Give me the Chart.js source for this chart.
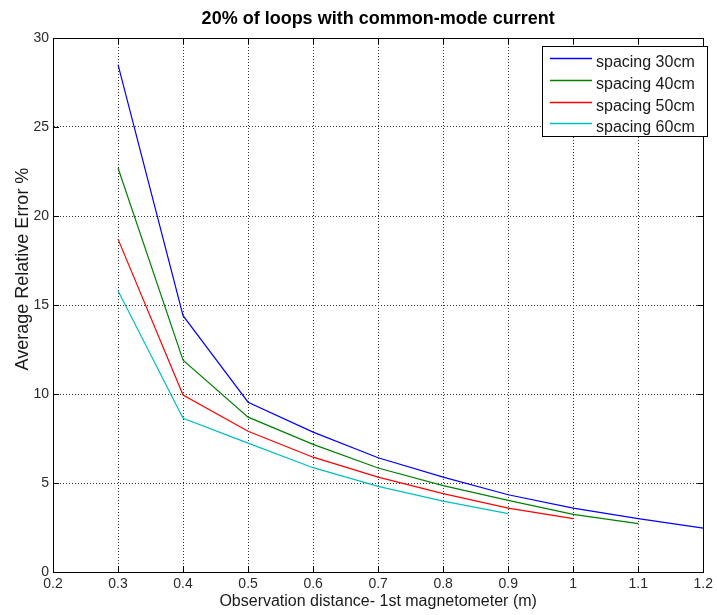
<!DOCTYPE html>
<html>
<head>
<meta charset="utf-8">
<script src="https://cdn.jsdelivr.net/npm/chart.js@4"></script>
<style>
  html, body { margin: 0; padding: 0; background: #fff; }
  #wrap { width: 717px; height: 615px; }
</style>
</head>
<body>
<div id="wrap"><canvas id="c" width="717" height="615"></canvas></div>
<script>
// Observation distance (m) and average relative error (%) per sensor spacing
const distances = [0.3, 0.4, 0.5, 0.6, 0.7, 0.8, 0.9, 1.0, 1.1, 1.2];
const spacing30 = [28.5, 14.4, 9.54, 7.86, 6.42, 5.33, 4.34, 3.59, 3.0, 2.47];
const spacing40 = [22.7, 11.9, 8.7, 7.17, 5.84, 4.85, 4.02, 3.24, 2.72];
const spacing50 = [18.7, 9.94, 7.91, 6.45, 5.33, 4.4, 3.59, 3.0];
const spacing60 = [15.8, 8.63, 7.24, 5.86, 4.81, 3.98, 3.28];
const seriesLabels = ['spacing 30cm', 'spacing 40cm', 'spacing 50cm', 'spacing 60cm'];
const seriesColors = ['#0000ff', '#008000', '#ff0000', '#00bfbf'];
const xTicks = [0.2, 0.3, 0.4, 0.5, 0.6, 0.7, 0.8, 0.9, 1.0, 1.1, 1.2];
const yTicks = [0, 5, 10, 15, 20, 25, 30];

const titleText = '20% of loops with common-mode current';
const xTitle = 'Observation distance- 1st magnetometer (m)';
const yTitle = 'Average Relative Error %';
const FONT = '"Liberation Sans", Arial, Helvetica, sans-serif';

const toPoints = vals => vals.map((v, i) => ({ x: distances[i], y: v }));
const series = [spacing30, spacing40, spacing50, spacing60];

// Frame, inward tick marks, title, y-axis label and the boxed legend
const matlabFrame = {
  id: 'matlabFrame',
  afterDraw(chart) {
    const { ctx, chartArea: a, scales } = chart;
    ctx.save();
    ctx.strokeStyle = '#000';
    ctx.lineWidth = 1;
    ctx.strokeRect(Math.round(a.left) + 0.5, Math.round(a.top) + 0.5,
                   Math.round(a.right - a.left), Math.round(a.bottom - a.top));
    const tl = 6;
    ctx.beginPath();
    xTicks.forEach(v => {
      const px = Math.round(scales.x.getPixelForValue(v)) + 0.5;
      ctx.moveTo(px, a.bottom); ctx.lineTo(px, a.bottom - tl);
      ctx.moveTo(px, a.top); ctx.lineTo(px, a.top + tl);
    });
    yTicks.forEach(v => {
      const py = Math.round(scales.y.getPixelForValue(v)) + 0.5;
      ctx.moveTo(a.left, py); ctx.lineTo(a.left + tl, py);
      ctx.moveTo(a.right, py); ctx.lineTo(a.right - tl, py);
    });
    ctx.stroke();

    // title
    ctx.fillStyle = '#000';
    ctx.font = 'bold 18px ' + FONT;
    ctx.textAlign = 'center';
    ctx.textBaseline = 'middle';
    ctx.fillText(titleText, (a.left + a.right) / 2, 19);

    // y-axis label
    ctx.save();
    ctx.translate(23, 269);
    ctx.rotate(-Math.PI / 2);
    ctx.font = '18px ' + FONT;
    ctx.fillStyle = '#1a1a1a';
    ctx.fillText(yTitle, 0, 0);
    ctx.restore();

    // legend
    const bx = 542, by = 46, bw = 165, bh = 90;
    ctx.fillStyle = '#fff';
    ctx.fillRect(bx, by, bw, bh);
    ctx.strokeStyle = '#000';
    ctx.strokeRect(bx + 0.5, by + 0.5, bw, bh);
    ctx.font = '16px ' + FONT;
    ctx.textAlign = 'left';
    ctx.textBaseline = 'alphabetic';
    chart.data.datasets.forEach((ds, i) => {
      const y = Math.round(58 + i * 21.8);
      ctx.strokeStyle = ds.borderColor;
      ctx.lineWidth = 1.5;
      ctx.beginPath();
      ctx.moveTo(550, y + 0.5);
      ctx.lineTo(592, y + 0.5);
      ctx.stroke();
      ctx.fillStyle = '#1a1a1a';
      ctx.fillText(ds.label, 596, y + 8.5);
    });
    ctx.restore();
  }
};

new Chart(document.getElementById('c'), {
  type: 'line',
  data: {
    datasets: series.map((vals, i) => ({
      label: seriesLabels[i],
      data: toPoints(vals),
      borderColor: seriesColors[i],
      backgroundColor: seriesColors[i],
      borderWidth: 1.2,
      pointRadius: 0,
      tension: 0,
      fill: false
    }))
  },
  options: {
    responsive: false,
    animation: false,
    devicePixelRatio: 1,
    layout: { padding: { top: 38, right: 9, left: 0, bottom: 0 } },
    plugins: {
      legend: { display: false },
      title: { display: false },
      tooltip: { enabled: false }
    },
    scales: {
      x: {
        type: 'linear',
        min: 0.2, max: 1.2,
        afterFit(s) { s.height = 43; },
        afterBuildTicks(s) { s.ticks = xTicks.map(v => ({ value: v })); },
        ticks: {
          padding: 4,
          color: '#2a2a2a',
          font: { family: FONT, size: 14 },
          maxRotation: 0,
          autoSkip: false,
          callback: v => String(Number(v.toFixed(1)))
        },
        grid: { color: '#333', lineWidth: 1, drawTicks: false },
        border: { display: true, color: '#000', dash: [1, 2] },
        title: {
          display: true, text: xTitle, color: '#1a1a1a',
          font: { family: FONT, size: 16 }, padding: { top: 0, bottom: 4 }
        }
      },
      y: {
        min: 0, max: 30,
        afterFit(s) { s.width = 53; },
        afterBuildTicks(s) { s.ticks = yTicks.map(v => ({ value: v })); },
        ticks: {
          padding: 4,
          color: '#2a2a2a',
          font: { family: FONT, size: 14 }
        },
        grid: { color: '#333', lineWidth: 1, drawTicks: false },
        border: { display: true, color: '#000', dash: [1, 2] }
      }
    }
  },
  plugins: [matlabFrame]
});
</script>
</body>
</html>
